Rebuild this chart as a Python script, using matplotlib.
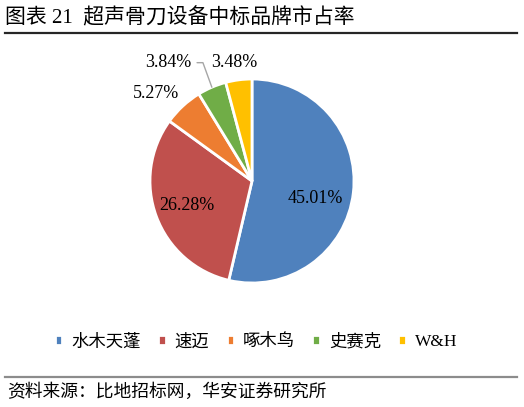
import numpy as np
import matplotlib.pyplot as plt
from matplotlib.lines import Line2D

plt.rcParams['font.family'] = ['Liberation Serif', 'Noto Sans CJK SC', 'DejaVu Sans']

# data
brands = ['水木天蓬', '速迈', '啄木鸟', '史赛克', 'W&H']
shares = [45.01, 26.28, 5.27, 3.84, 3.48]
colors = ['#4F81BD', '#C0504D', '#ED7D31', '#70AD47', '#FFC000']
title = '图表 21  超声骨刀设备中标品牌市占率'
source = '资料来源：比地招标网，华安证券研究所'

# label spots (data units of the pie axes)
label_xy = [(0.62, -0.17), (-0.64, -0.24), (-0.94, 0.86), (-0.82, 1.16), (-0.17, 1.16)]

fig = plt.figure(figsize=(5.24, 4.07), dpi=100)
ax = fig.add_axes([150 / 524, 1 - 283 / 407, 204 / 524, 204 / 407])

wedges, _ = ax.pie(shares, colors=colors, startangle=90, counterclock=False,
                   wedgeprops=dict(edgecolor='white', linewidth=2))
ax.set_xlim(-1, 1)
ax.set_ylim(-1, 1)
ax.set_aspect('equal')
ax.axis('off')

for i, (w, v) in enumerate(zip(wedges, shares)):
    txt = '%.2f%%' % v
    if i == 3:
        mid = np.deg2rad((w.theta1 + w.theta2) / 2)
        ax.annotate(txt, xy=(np.cos(mid), np.sin(mid)), xytext=label_xy[i],
                    ha='center', va='center', fontsize=13,
                    arrowprops=dict(arrowstyle='-', color='#A6A6A6', lw=1,
                                    shrinkA=2, shrinkB=0,
                                    connectionstyle='angle,angleA=0,angleB=110,rad=0'),
                    annotation_clip=False)
    else:
        ax.text(label_xy[i][0], label_xy[i][1], txt, ha='center', va='center', fontsize=13)

fig.text(5 / 524, 1 - 18 / 407, title, fontsize=15, ha='left', va='center')
fig.add_artist(Line2D([5 / 524, 517 / 524], [1 - 33 / 407] * 2, color='#262626', lw=1.6))

fig.legend(wedges, brands, loc='center', bbox_to_anchor=(256 / 524, 1 - 342 / 407),
           ncol=5, frameon=False, fontsize=12.5, handlelength=0.45, handleheight=0.45,
           handletextpad=0.5, columnspacing=1.0)

fig.add_artist(Line2D([5 / 524, 517 / 524], [1 - 377 / 407] * 2, color='#8C8C8C', lw=1.6))
fig.text(7 / 524, 1 - 392 / 407, source, fontsize=12.8, ha='left', va='center')

fig.savefig('out.png', dpi=100)
